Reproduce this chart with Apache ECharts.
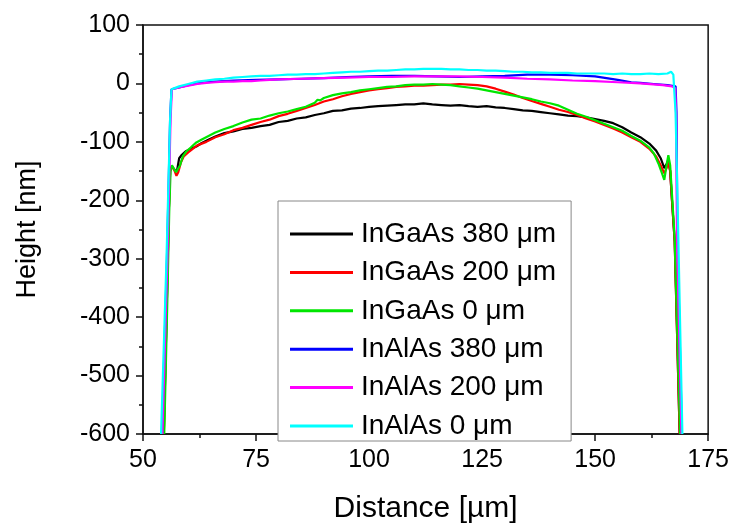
<!DOCTYPE html>
<html>
<head>
<meta charset="utf-8">
<script src="https://cdn.jsdelivr.net/npm/echarts@6/dist/echarts.min.js"></script>
<style>html,body{margin:0;padding:0;background:#fff}#c{width:732px;height:529px}</style>
</head>
<body>
<div id="c"></div>
<script>
// Tick settings
const xTicks = [50, 75, 100, 125, 150, 175];
const yTicks = [-600, -500, -400, -300, -200, -100, 0, 100];

const seriesNames = ['InGaAs 380 \u03bcm', 'InGaAs 200 \u03bcm', 'InGaAs 0 \u03bcm', 'InAlAs 380 \u03bcm', 'InAlAs 200 \u03bcm', 'InAlAs 0 \u03bcm'];
const seriesColors = ['#000000', '#ff0000', '#00e600', '#0000ff', '#ff00ff', '#00ffff'];

// [distance µm, height nm]
const ingaas380 = [[54.6,-600],[55.2,-400],[55.7,-220],[56.0,-150],[56.4,-142],[57.0,-148],[57.5,-150],[58.0,-128],[58.6,-122],[59.5,-116],[60.5,-112],[61.8,-108],[63,-102],[64.8,-95],[66,-91],[68,-85],[70,-82],[72,-78],[74,-76],[76,-73],[78,-71],[80,-66],[82,-64],[84,-60],[86,-58],[88,-54],[90,-51],[92,-47],[94,-46],[96,-43],[98,-42],[100,-40],[102,-39],[104,-38],[106,-37],[108,-36],[110,-36],[112,-34],[114,-36],[116,-37],[118,-38],[120,-37],[122,-39],[124,-40],[126,-39],[128,-41],[130,-42],[132,-44],[134,-46],[136,-47],[138,-49],[140,-51],[142,-53],[144,-55],[146,-56],[148,-58],[150,-61],[152,-64],[154,-68],[156,-75],[158,-84],[160,-92],[162,-103],[163.5,-115],[164.5,-128],[165.3,-145],[165.8,-138],[166.2,-131],[166.6,-150],[167.0,-200],[167.6,-270],[168.7,-600]];
const ingaas200 = [[54.6,-600],[55.2,-400],[55.7,-220],[56.0,-150],[56.4,-142],[56.9,-148],[57.4,-158],[57.8,-152],[58.4,-135],[59,-125],[60,-118],[61,-112],[62,-106],[64,-100],[66,-92],[68,-87],[70,-80],[72,-76],[74,-71],[76,-66],[78,-62],[80,-56],[82,-52],[84,-47],[86,-42],[88,-37],[90,-31],[92,-27],[94,-22],[96,-18],[98,-15],[100,-12],[102,-10],[104,-8],[106,-6],[108,-5],[110,-4],[112,-4],[114,-3],[116,-2],[118,-2],[120,-1],[122,-2],[124,-3],[126,-5],[128,-9],[130,-14],[132,-19],[134,-25],[136,-30],[138,-35],[140,-40],[142,-45],[144,-49],[146,-54],[148,-60],[150,-65],[152,-71],[154,-77],[156,-84],[158,-92],[160,-100],[162,-112],[163.5,-125],[164.5,-140],[165.3,-154],[165.8,-145],[166.2,-135],[166.6,-150],[167.0,-200],[167.6,-270],[168.7,-600]];
const ingaas0 = [[54.7,-600],[55.3,-400],[55.8,-220],[56.1,-150],[56.4,-140],[56.8,-142],[57.3,-152],[57.7,-155],[58.2,-140],[58.8,-125],[59.5,-117],[60.5,-110],[61.8,-101],[63,-96],[64.5,-90],[66,-84],[68,-78],[70,-73],[72,-67],[74,-62],[76,-60],[78,-55],[80,-51],[82,-48],[84,-44],[86,-40],[88,-33],[88.6,-28],[89.2,-29],[90,-25],[92,-20],[94,-17],[96,-15],[98,-12],[100,-10],[102,-8],[104,-6],[106,-5],[108,-3],[110,-2],[112,-2],[114,-1],[116,-2],[118,-3],[120,-5],[122,-7],[124,-9],[126,-12],[128,-15],[130,-18],[132,-21],[134,-24],[136,-27],[138,-31],[140,-34],[142,-38],[144,-45],[146,-52],[148,-57],[150,-63],[152,-69],[154,-75],[156,-81],[158,-90],[160,-98],[162,-110],[163,-120],[164,-137],[164.7,-152],[165.3,-165],[165.8,-140],[166.2,-123],[166.6,-140],[167.0,-190],[167.6,-265],[168.8,-600]];
const inalas380 = [[54.2,-600],[55.3,-300],[56.0,-60],[56.3,-10],[58,-7],[60,-3],[62,0],[64,2],[66,3],[68,4],[70,5],[75,6],[80,7],[85,8],[90,9],[95,11],[100,12],[105,13],[110,13],[115,12],[120,11],[125,12],[130,13],[135,15],[140,15],[145,14],[150,12],[155,6],[158,2],[160,1],[163,-1],[166,-3],[167.8,-5],[168.0,-50],[168.2,-263],[169.2,-600]];
const inalas200 = [[54.3,-600],[55.4,-300],[56.1,-60],[56.4,-10],[58,-7],[60,-4],[62,-1],[64,1],[66,2],[68,3],[70,3],[72,4],[74,4],[76,5],[78,6],[80,7],[85,8],[90,9],[95,10],[100,11],[105,11],[110,12],[115,12],[120,12],[125,11],[130,10],[135,8],[140,7],[145,5],[150,4],[155,2],[160,0],[165,-3],[167,-5],[167.7,-8],[167.9,-50],[168.1,-263],[169.1,-600]];
const inalas0 = [[54.0,-600],[55.2,-300],[56.0,-60],[56.3,-10],[57,-8],[58,-5],[60,-1],[62,3],[64,5],[66,7],[68,8],[70,10],[72,11],[74,12],[76,13],[78,13],[80,14],[82,15],[84,15],[86,16],[88,16],[90,17],[92,18],[94,19],[96,20],[98,20],[100,21],[102,22],[104,22],[106,23],[108,24],[110,24],[112,25],[114,25],[116,25],[118,24],[120,24],[122,23],[124,23],[126,22],[128,22],[130,21],[132,20],[134,20],[136,19],[138,19],[140,18],[142,18],[144,18],[146,17],[148,17],[150,17],[152,17],[154,16],[156,17],[158,16],[160,16],[162,17],[164,16],[166,17],[166.8,20],[167.3,15],[167.8,-50],[168.4,-263],[169.3,-600]];

const allData = [ingaas380, ingaas200, ingaas0, inalas380, inalas200, inalas0];

const chart = echarts.init(document.getElementById('c'), null, {renderer: 'canvas'});
const font = 'Liberation Sans, Arial, sans-serif';
chart.setOption({
  animation: false,
  backgroundColor: '#fff',
  grid: {left: 143, right: 22, top: 25, bottom: 88, show: true, borderColor: '#111', borderWidth: 1.5, backgroundColor: 'transparent'},
  xAxis: {
    type: 'value', min: xTicks[0], max: xTicks[xTicks.length - 1], interval: 25,
    name: 'Distance [\u00b5m]', nameLocation: 'middle', nameGap: 60,
    nameTextStyle: {fontSize: 30, color: '#000', fontFamily: font},
    axisLine: {show: true, onZero: false, lineStyle: {color: '#111', width: 1.5}},
    axisTick: {show: true, inside: false, length: 7, lineStyle: {color: '#111', width: 1.5}},
    minorTick: {show: true, splitNumber: 2, length: 4, lineStyle: {color: '#111', width: 1.5}},
    axisLabel: {fontSize: 25, color: '#000', margin: 14, fontFamily: font},
    splitLine: {show: false}
  },
  yAxis: {
    type: 'value', min: yTicks[0], max: yTicks[yTicks.length - 1], interval: 100,
    name: 'Height [nm]', nameLocation: 'middle', nameGap: 102, nameRotate: 90,
    nameTextStyle: {fontSize: 27, color: '#000', fontFamily: font},
    axisLine: {show: true, onZero: false, lineStyle: {color: '#111', width: 1.5}},
    axisTick: {show: true, inside: false, length: 7, lineStyle: {color: '#111', width: 1.5}},
    minorTick: {show: true, splitNumber: 2, length: 4, lineStyle: {color: '#111', width: 1.5}},
    axisLabel: {fontSize: 25, color: '#000', margin: 13, fontFamily: font},
    splitLine: {show: false}
  },
  legend: {
    orient: 'vertical', left: 278, top: 201,
    padding: [18, 15, 0, 12],
    backgroundColor: '#fff', borderColor: '#888', borderWidth: 1,
    itemWidth: 63, itemHeight: 3, itemGap: 8.4, icon: 'rect',
    textStyle: {fontSize: 28, color: '#000', lineHeight: 30, fontFamily: font, padding: [0, 0, 0, 3]},
    data: seriesNames
  },
  series: allData.map((d, i) => ({
    name: seriesNames[i], type: 'line', data: d, showSymbol: false, symbol: 'none',
    lineStyle: {color: seriesColors[i], width: 2.2}, itemStyle: {color: seriesColors[i]},
    clip: true
  }))
});
</script>
</body>
</html>
